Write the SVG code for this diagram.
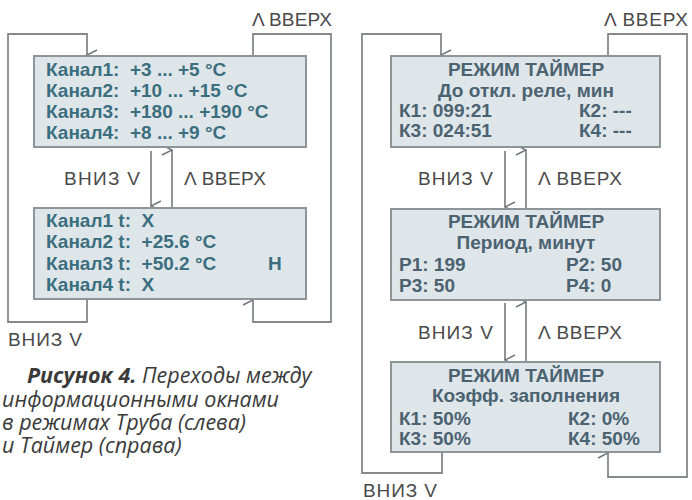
<svg xmlns="http://www.w3.org/2000/svg" width="692" height="500" viewBox="0 0 692 500">
<defs>
<marker id="ah" viewBox="0 0 12 12" refX="6" refY="11" markerWidth="12" markerHeight="12" markerUnits="userSpaceOnUse" orient="auto-start-reverse">
<path d="M1,1 L6,11 L11,1" fill="none" stroke="#6f7477" stroke-width="1.4"/>
</marker>
<style>
.box{fill:#dfe6ea;stroke:#8e9598;stroke-width:2}
.arr{fill:none;stroke:#85898c;stroke-width:1.8;marker-end:url(#ah)}
.tl{font-family:"Liberation Sans",Arial,sans-serif;font-weight:bold;font-size:19px;fill:#3b6e7e;white-space:pre}
.tr{font-family:"Liberation Sans",Arial,sans-serif;font-weight:bold;font-size:19px;fill:#4b6371}
.c{text-anchor:middle}
.lb{font-family:"Liberation Sans",Arial,sans-serif;font-size:19px;fill:#4a4a4a}
.cap{font-family:"Open Sans",sans-serif;font-style:italic;font-size:21.5px;fill:#3a3a3a}
</style>
</defs>
<g id="connectors">
<path class="arr" d="M87,299 V322 H8 V34 H87 V55"/>
<path class="arr" d="M253,56 V34 H331 V322 H253 V300"/>
<path class="arr" d="M151,151 V206"/>
<path class="arr" d="M172,208 V150"/>
<path class="arr" d="M442,452 V473 H362 V34 H441 V55"/>
<path class="arr" d="M608,56 V34 H687 V477 H608 V453"/>
<path class="arr" d="M505,151 V207"/>
<path class="arr" d="M526,209 V150"/>
<path class="arr" d="M505,303 V360"/>
<path class="arr" d="M526,362 V302"/>
</g>
<g id="labels">
<text class="lb" x="252" y="26" textLength="80" lengthAdjust="spacing">Λ ВВЕРХ</text>
<text class="lb" x="64" y="185" textLength="76" lengthAdjust="spacing">ВНИЗ V</text>
<text class="lb" x="184" y="185" textLength="82" lengthAdjust="spacing">Λ ВВЕРХ</text>
<text class="lb" x="8" y="346" textLength="74" lengthAdjust="spacing">ВНИЗ V</text>
<text class="lb" x="604" y="26" textLength="84" lengthAdjust="spacing">Λ ВВЕРХ</text>
<text class="lb" x="418" y="185" textLength="75" lengthAdjust="spacing">ВНИЗ V</text>
<text class="lb" x="538" y="185" textLength="84" lengthAdjust="spacing">Λ ВВЕРХ</text>
<text class="lb" x="418" y="339" textLength="75" lengthAdjust="spacing">ВНИЗ V</text>
<text class="lb" x="538" y="339" textLength="84" lengthAdjust="spacing">Λ ВВЕРХ</text>
<text class="lb" x="363" y="497" textLength="74" lengthAdjust="spacing">ВНИЗ V</text>
</g>
<g id="pipe-ranges">
<rect class="box" x="34" y="56" width="272" height="91"/>
<text class="tl" x="46" y="76" xml:space="preserve">Канал1:  +3 ... +5 °C</text>
<text class="tl" x="46" y="97" xml:space="preserve">Канал2:  +10 ... +15 °C</text>
<text class="tl" x="46" y="118" xml:space="preserve">Канал3:  +180 ... +190 °C</text>
<text class="tl" x="46" y="139" xml:space="preserve">Канал4:  +8 ... +9 °C</text>
</g>
<g id="pipe-temps">
<rect class="box" x="34" y="208" width="272" height="91"/>
<text class="tl" x="46" y="227" xml:space="preserve">Канал1 t:  X</text>
<text class="tl" x="46" y="248" xml:space="preserve">Канал2 t:  +25.6 °C</text>
<text class="tl" x="46" y="270" xml:space="preserve">Канал3 t:  +50.2 °C</text>
<text class="tl" x="268" y="270">Н</text>
<text class="tl" x="46" y="291" xml:space="preserve">Канал4 t:  X</text>
</g>
<g id="timer-relay">
<rect class="box" x="391" y="56" width="269" height="91"/>
<text class="tr c" x="526" y="76">РЕЖИМ ТАЙМЕР</text>
<text class="tr c" x="526" y="97">До откл. реле, мин</text>
<text class="tr" x="399" y="117">К1: 099:21</text>
<text class="tr" x="579" y="117">К2: ---</text>
<text class="tr" x="399" y="137">К3: 024:51</text>
<text class="tr" x="579" y="137">К4: ---</text>
</g>
<g id="timer-period">
<rect class="box" x="391" y="209" width="269" height="91"/>
<text class="tr c" x="526" y="228">РЕЖИМ ТАЙМЕР</text>
<text class="tr c" x="526" y="249">Период, минут</text>
<text class="tr" x="399" y="271">P1: 199</text>
<text class="tr" x="566" y="271">P2: 50</text>
<text class="tr" x="399" y="292">P3: 50</text>
<text class="tr" x="566" y="292">P4: 0</text>
</g>
<g id="timer-duty">
<rect class="box" x="391" y="362" width="269" height="90"/>
<text class="tr c" x="526" y="382">РЕЖИМ ТАЙМЕР</text>
<text class="tr c" x="526" y="402">Коэфф. заполнения</text>
<text class="tr" x="399" y="425">К1: 50%</text>
<text class="tr" x="568" y="425">К2: 0%</text>
<text class="tr" x="399" y="445">К3: 50%</text>
<text class="tr" x="568" y="445">К4: 50%</text>
</g>
<g id="caption">
<text class="cap" x="27" y="383"><tspan font-weight="bold">Рисунок 4.</tspan> Переходы между</text>
<text class="cap" x="2" y="407">информационными окнами</text>
<text class="cap" x="2" y="430">в режимах Труба (слева)</text>
<text class="cap" x="2" y="453">и Таймер (справа)</text>
</g>
</svg>
